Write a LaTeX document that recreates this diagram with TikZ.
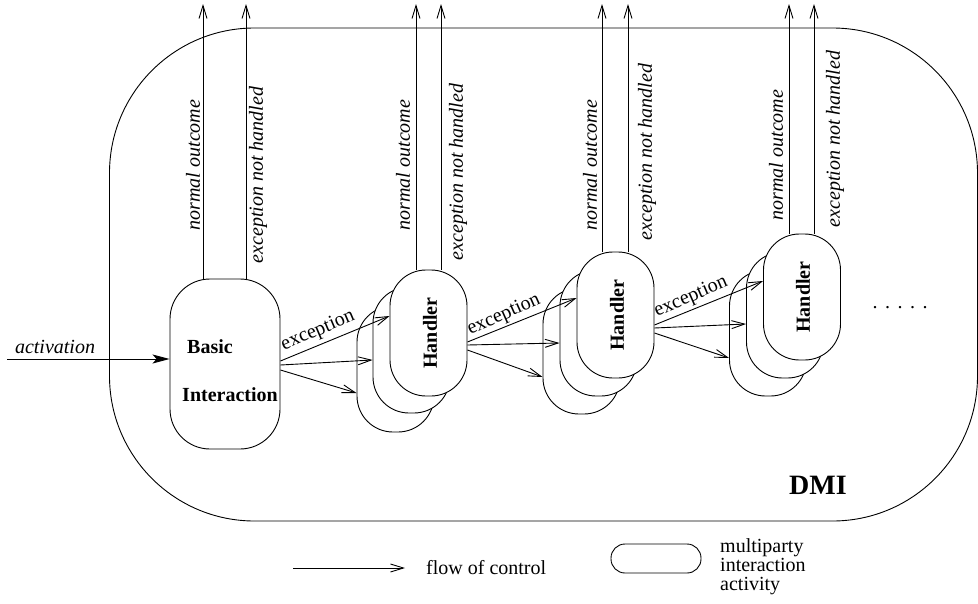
\documentclass[tikz,border=0pt]{standalone}
\usepackage{fontspec}
\setmainfont{Liberation Serif}
\usetikzlibrary{arrows.meta}
\tikzset{
  every node/.style={font=\fontsize{20}{19}\selectfont, inner sep=0pt},
  flow/.style={line width=0.9pt, -{Straight Barb[length=13pt,width=8pt,line width=0.9pt]}},
  act/.style={line width=0.9pt, -{Stealth[length=17pt,width=9pt,inset=4pt]}},
  hbox/.style={draw, line width=0.9pt, fill=white, rounded corners=36pt, minimum width=77pt, minimum height=126pt},
  outlbl/.style={rotate=90, font=\fontsize{20}{19}\selectfont\itshape},
  exlbl/.style={font=\fontsize{20}{19}\selectfont},
  hlbl/.style={rotate=90, font=\fontsize{20}{19}\selectfont\bfseries}
}
\begin{document}
\begin{tikzpicture}[x=1pt,y=-1pt]
\useasboundingbox (0,0) rectangle (978,603);
% DMI outer
\node[draw, line width=0.9pt, rounded corners=145pt, minimum width=868pt, minimum height=493pt] (dmi) at (543.5,274.5) {};
\node[font=\fontsize{28}{30}\selectfont\bfseries] (dmilbl) at (818,485) {DMI};

% Basic interaction
\node[draw, line width=0.9pt, fill=white, rounded corners=40pt, minimum width=110pt, minimum height=170pt] (bi) at (225,364) {};
\node[font=\fontsize{20}{19}\selectfont\bfseries] (bit1) at (210,347) {Basic};
\node[font=\fontsize{20}{19}\selectfont\bfseries] (bit2) at (230,395) {Interaction};

% Handler stacks
\node[hbox] (h1c) at (395.5,369) {};
\node[hbox] (h1b) at (411.5,350) {};
\node[hbox] (h1a) at (428.5,333) {};
\node[hlbl] (h1l) at (430,333) {Handler};

\node[hbox] (h2c) at (581.5,351) {};
\node[hbox] (h2b) at (598.5,333) {};
\node[hbox] (h2a) at (615.5,315) {};
\node[hlbl] (h2l) at (617,315) {Handler};

\node[hbox] (h3c) at (768,333) {};
\node[hbox] (h3b) at (785,315) {};
\node[hbox] (h3a) at (802,297) {};
\node[hlbl] (h3l) at (803,297) {Handler};

\node[anchor=base] (dots) at (900,308) {.\hspace{7.5pt}.\hspace{7.5pt}.\hspace{7.5pt}.\hspace{7.5pt}.};

% activation
\coordinate (actstart) at (7,359);
\draw[act] (actstart) -- (bi.west |- actstart);
\node[font=\fontsize{20}{19}\selectfont\itshape] (actlbl) at (55,347) {activation};

% upward outcome arrows
\coordinate (bn) at (203,4);  \coordinate (be) at (246,4);
\coordinate (n1) at (416,4);  \coordinate (e1) at (441,4);
\coordinate (n2) at (602,4);  \coordinate (e2) at (628,4);
\coordinate (n3) at (789,4);  \coordinate (e3) at (814,4);
\draw[flow] (bn |- bi.north) -- (bn);
\draw[flow] (be |- bi.north) -- (be);
\draw[flow] (n1 |- h1a.north) -- (n1);
\draw[flow] (e1 |- h1a.north) -- (e1);
\draw[flow] (n2 |- h2a.north) -- (n2);
\draw[flow] (e2 |- h2a.north) -- (e2);
\draw[flow] (n3 |- h3a.north) -- (n3);
\draw[flow] (e3 |- h3a.north) -- (e3);

\node[outlbl] (lbn) at (193,165) {normal outcome};
\node[outlbl] (lbe) at (258,175) {exception not handled};
\node[outlbl] (l1n) at (403,165) {normal outcome};
\node[outlbl] (l1e) at (458,172) {exception not handled};
\node[outlbl] (l2n) at (590,165) {normal outcome};
\node[outlbl] (l2e) at (647,152) {exception not handled};
\node[outlbl] (l3n) at (776,155) {normal outcome};
\node[outlbl] (l3e) at (835,139) {exception not handled};

% exception arrows
\draw[flow] (bi.east |- 0,361) -- (h1a.west |- 0,316);
\draw[flow] (bi.east |- 0,365) -- (h1b.west |- 0,360);
\draw[flow] (bi.east |- 0,370) -- (h1c.west |- 0,393);
\node[exlbl, rotate=23] (x1) at (318,331) {exception};

\draw[flow] (h1a.east |- 0,342) -- (h2a.west |- 0,298);
\draw[flow] (h1a.east |- 0,345) -- (h2b.west |- 0,343);
\draw[flow] (h1a.east |- 0,350) -- (h2c.west |- 0,377);
\node[exlbl, rotate=24] (x2) at (504,315) {exception};

\draw[flow] (h2a.east |- 0,325) -- (h3a.west |- 0,281);
\draw[flow] (h2a.east |- 0,328) -- (h3b.west |- 0,324);
\draw[flow] (h2a.east |- 0,333) -- (h3c.west |- 0,358);
\node[exlbl, rotate=23.5] (x3) at (691,297) {exception};

% legend
\coordinate (lgs) at (293,568);
\coordinate (lge) at (405,568);
\draw[flow] (lgs) -- (lge);
\node[anchor=west] (lgt) at (426,568) {flow of control};
\node[draw, line width=0.9pt, rounded corners=14pt, minimum width=90pt, minimum height=29pt] (lgbox) at (656,558.5) {};
\node[anchor=north west, align=left] (lgt2) at (720,538) {multiparty\\interaction\\activity};
\end{tikzpicture}
\end{document}
